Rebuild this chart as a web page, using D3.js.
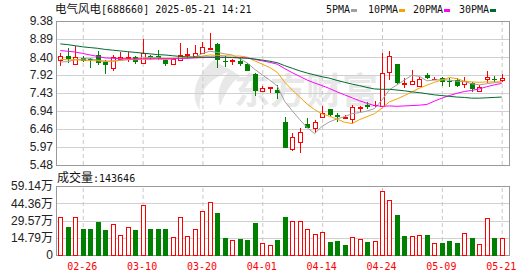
<!DOCTYPE html>
<html>
<head>
<meta charset="utf-8">
<script src="https://cdn.jsdelivr.net/npm/d3@7"></script>
<style>
  body { margin: 0; background: #fff; }
  svg { display: block; }
  .ax text { font-family: "Liberation Sans", "Noto Sans CJK SC", sans-serif; font-size: 12px; fill: #222; }
  .mono { font-family: "DejaVu Sans Mono", monospace; font-size: 10px; }
  .cjk { font-family: "Noto Sans CJK SC", sans-serif; font-size: 12px; }
</style>
</head>
<body>
<svg id="chart"></svg>
<script>
// trading days shown (MM-DD)
const dates = ["02-21","02-24","02-25","02-26","02-27","02-28","03-03","03-04","03-05","03-06",
  "03-07","03-10","03-11","03-12","03-13","03-14","03-17","03-18","03-19","03-20",
  "03-21","03-24","03-25","03-26","03-27","03-28","03-31","04-01","04-02","04-03",
  "04-07","04-08","04-09","04-10","04-11","04-14","04-15","04-16","04-17","04-18",
  "04-21","04-22","04-23","04-24","04-25","04-28","04-29","04-30","05-06","05-07",
  "05-08","05-09","05-12","05-13","05-14","05-15","05-16","05-19","05-20","05-21"];

const open = [8.32,8.44,8.22,8.39,8.36,8.45,8.28,8.10,8.36,8.39,8.40,8.23,8.42,8.42,8.32,8.22,8.33,8.47,8.43,8.51,
  8.62,8.75,8.31,8.30,8.31,8.21,7.94,7.48,7.56,7.51,6.65,5.91,6.11,6.60,6.47,6.77,6.99,6.84,6.76,6.72,
  7.02,7.11,7.10,7.08,8.01,8.22,7.68,7.67,7.61,7.92,7.81,7.83,7.76,7.78,7.67,7.69,7.48,7.81,7.82,7.78];
const high = [8.50,8.64,8.70,8.42,8.37,8.57,8.32,8.46,8.55,8.55,8.43,8.88,8.46,8.59,8.36,8.36,8.78,8.64,8.73,8.82,
  9.06,8.78,8.43,8.35,8.37,8.24,7.96,7.62,7.60,7.65,6.77,6.34,6.49,6.74,6.70,7.08,7.01,6.88,6.84,7.10,
  7.08,7.18,7.21,8.52,8.58,8.22,7.83,8.05,7.85,7.96,7.86,7.87,7.83,7.83,7.87,7.72,7.65,8.03,7.90,7.94];
const low = [8.17,8.23,8.20,8.28,8.12,8.20,7.94,8.03,8.32,8.28,8.22,8.21,8.33,8.33,8.17,8.21,8.30,8.34,8.40,8.49,
  8.61,8.12,8.14,8.19,8.16,8.02,7.36,7.47,7.42,7.27,5.94,5.86,5.81,6.47,6.34,6.75,6.77,6.65,6.75,6.61,
  6.91,6.99,7.06,7.06,7.78,7.65,7.56,7.65,7.59,7.81,7.79,7.63,7.60,7.60,7.56,7.45,7.47,7.69,7.72,7.72];
const close = [8.44,8.34,8.40,8.30,8.33,8.23,8.19,8.40,8.40,8.41,8.28,8.50,8.38,8.39,8.22,8.34,8.46,8.49,8.51,8.68,
  8.66,8.32,8.30,8.32,8.22,8.03,7.49,7.56,7.58,7.42,5.94,6.23,6.38,6.47,6.65,6.90,6.83,6.78,6.78,7.04,
  7.05,7.05,7.11,7.96,8.43,7.71,7.70,7.76,7.80,7.83,7.82,7.72,7.75,7.63,7.76,7.53,7.60,7.86,7.81,7.84];

// volume (hands) and its colour flag (1 = red, 0 = green) as drawn
const volume = [323000,240000,323000,223000,223000,283000,214000,263000,169000,237000,
  214000,429000,223000,223000,223000,151000,323000,160000,220000,374000,
  451000,360000,146000,126000,137000,129000,274000,100000,83000,129000,
  326000,289000,289000,220000,180000,194000,111000,120000,86000,151000,
  134000,111000,120000,546000,469000,343000,163000,160000,169000,171000,
  103000,103000,120000,103000,186000,146000,91000,314000,146000,143646];
const volUp = [1,0,1,0,0,0,0,1,1,1, 0,1,0,0,0,1,1,1,1,1, 1,0,0,1,0,0,0,1,1,0,
  0,1,1,1,1,1,0,0,0,1, 1,0,1,1,1,0,0,1,1,0, 1,0,0,0,1,0,1,1,0,1];

// moving averages
const ma5 = [8.27,8.28,8.33,8.35,8.36,8.32,8.29,8.29,8.31,8.33,8.34,8.40,8.39,8.39,8.35,8.37,8.36,8.38,8.40,8.50,
  8.56,8.53,8.49,8.46,8.36,8.24,8.07,7.92,7.78,7.62,7.20,6.95,6.71,6.49,6.33,6.53,6.65,6.73,6.79,6.87,
  6.90,6.94,7.01,7.24,7.52,7.65,7.78,7.91,7.88,7.76,7.78,7.79,7.78,7.75,7.74,7.68,7.65,7.68,7.71,7.73];
const ma10 = [8.34,8.33,8.33,8.32,8.31,8.30,8.29,8.30,8.32,8.34,8.33,8.34,8.34,8.35,8.34,8.35,8.38,8.39,8.40,8.43,
  8.46,8.45,8.44,8.43,8.43,8.40,8.30,8.21,8.12,7.99,7.72,7.51,7.32,7.13,6.98,6.86,6.80,6.72,6.64,6.60,
  6.71,6.79,6.87,7.02,7.19,7.27,7.36,7.46,7.56,7.64,7.72,7.78,7.85,7.82,7.75,7.73,7.72,7.73,7.73,7.73];
const ma20 = [8.58,8.56,8.54,8.50,8.46,8.42,8.38,8.37,8.36,8.36,8.35,8.36,8.36,8.36,8.36,8.36,8.37,8.37,8.38,8.39,
  8.40,8.39,8.39,8.39,8.39,8.38,8.34,8.30,8.26,8.21,8.09,7.98,7.88,7.78,7.70,7.63,7.55,7.46,7.38,7.30,
  7.22,7.15,7.09,7.07,7.08,7.07,7.08,7.09,7.10,7.12,7.21,7.29,7.36,7.42,7.47,7.50,7.54,7.60,7.65,7.69];
const ma30 = [8.76,8.74,8.71,8.68,8.66,8.64,8.61,8.59,8.57,8.55,8.53,8.51,8.49,8.47,8.46,8.44,8.42,8.41,8.40,8.40,
  8.40,8.40,8.40,8.39,8.38,8.37,8.35,8.32,8.29,8.25,8.17,8.10,8.03,7.97,7.92,7.87,7.83,7.77,7.72,7.67,
  7.63,7.58,7.54,7.53,7.53,7.51,7.49,7.46,7.44,7.41,7.38,7.36,7.34,7.32,7.31,7.29,7.29,7.30,7.31,7.32];

const priceTicks = [9.38, 8.89, 8.40, 7.92, 7.43, 6.94, 6.46, 5.97, 5.48];
const volTicks = [0, 147900, 295700, 443600, 591400];
const dateTicks = ["02-26","03-10","03-20","04-01","04-14","04-24","05-09","05-21"];
const legendNames = ["5PMA","10PMA","20PMA","30PMA"];

const W = 530, H = 276;
const left = 56, right = 509;
const pTop = 21, pBot = 165, vTop = 186, vBot = 255;
const upC = "#ff0000", downC = "#008000";
const maColors = ["#a0a0a0", "#f4a300", "#ff00ff", "#006b2e"];

const svg = d3.select("#chart").attr("width", W).attr("height", H);

const x = d3.scalePoint().domain(dates).range([60.3, 501.7]);
const yP = d3.scaleLinear().domain([5.48, 9.38]).range([pBot, pTop]);
const yV = d3.scaleLinear().domain([0, 591400]).range([vBot, vTop]);
const cx = i => Math.round(x(dates[i])) + 0.5;

// watermark
const wm = svg.append("g").attr("fill", "#e8e8e8");
wm.append("path")
  .attr("d", "M214,60 C194,76 190,98 200,110 C198,92 208,80 228,72 C220,82 216,94 220,106 C226,90 234,80 240,76 C232,70 222,66 214,60 Z");
wm.append("text").attr("x", 234).attr("y", 104)
  .style("font-family", "Noto Sans CJK SC").style("font-size", "36px").style("font-weight", "bold")
  .text("东方财富");

// horizontal grid + price labels
svg.append("g").attr("class", "ax").attr("transform", `translate(${left},0)`)
  .call(d3.axisLeft(yP).tickValues(priceTicks).tickSize(-(right - left)).tickPadding(3).tickFormat(d3.format(".2f")))
  .call(g => g.select(".domain").remove())
  .call(g => g.selectAll("line").attr("stroke", "#d0d0d0").attr("shape-rendering", "crispEdges"));

svg.append("g").attr("class", "ax").attr("transform", `translate(${left},0)`)
  .call(d3.axisLeft(yV).tickValues(volTicks).tickSize(-(right - left)).tickPadding(3)
    .tickFormat(v => v === 0 ? "0" : (v / 1e4).toFixed(2) + "万"))
  .call(g => g.select(".domain").remove())
  .call(g => g.selectAll("line").attr("stroke", "#d0d0d0").attr("shape-rendering", "crispEdges"));

// vertical dashed grid
svg.append("g").attr("transform", `translate(0,${pBot})`)
  .call(d3.axisBottom(x).tickValues(dateTicks).tickSize(-(pBot - pTop)).tickFormat(""))
  .call(g => g.select(".domain").remove())
  .call(g => g.selectAll("line").attr("stroke", "#c8c8c8").attr("stroke-dasharray", "4,3"));

svg.append("g").attr("transform", `translate(0,${vBot})`)
  .call(d3.axisBottom(x).tickValues(dateTicks).tickSize(-(vBot - vTop)).tickPadding(8))
  .call(g => g.select(".domain").remove())
  .call(g => g.selectAll("line").attr("stroke", "#c8c8c8").attr("stroke-dasharray", "4,3"))
  .call(g => g.selectAll("text").attr("class", "mono").attr("fill", upC).attr("dx", -1));

// frames
[[pTop, pBot], [vTop, vBot]].forEach(([t, b]) => {
  svg.append("rect").attr("x", left + 0.5).attr("y", t + 0.5)
    .attr("width", right - left).attr("height", b - t)
    .attr("fill", "none").attr("stroke", "#999").attr("shape-rendering", "crispEdges");
});

// candles
const idx = d3.range(dates.length);
const candles = svg.append("g").attr("shape-rendering", "crispEdges");
idx.forEach(i => {
  const isUp = close[i] >= open[i];
  const col = isUp ? upC : downC;
  const c = cx(i);
  const yt = Math.round(yP(Math.max(open[i], close[i])));
  const yb = Math.round(yP(Math.min(open[i], close[i])));
  candles.append("line").attr("x1", c).attr("x2", c)
    .attr("y1", yP(high[i])).attr("y2", yP(low[i])).attr("stroke", col);
  if (isUp) {
    if (yb - yt < 1) {
      candles.append("rect").attr("x", c - 2.5).attr("y", yt).attr("width", 5).attr("height", 1).attr("fill", col);
    } else {
      candles.append("rect").attr("x", c - 2).attr("y", yt + 0.5).attr("width", 4).attr("height", yb - yt)
        .attr("fill", "#fff").attr("stroke", col);
    }
  } else {
    candles.append("rect").attr("x", c - 2.5).attr("y", yt).attr("width", 5)
      .attr("height", Math.max(1, yb - yt)).attr("fill", col);
  }
});

// moving averages
const line = d3.line().x((d, i) => x(dates[i])).y(d => yP(d));
[ma5, ma10, ma20, ma30].forEach((s, k) => {
  svg.append("path").datum(s).attr("d", line)
    .attr("fill", "none").attr("stroke", maColors[k]).attr("stroke-width", 1);
});

// volume bars
const vols = svg.append("g").attr("shape-rendering", "crispEdges");
idx.forEach(i => {
  const c = cx(i);
  const yt = Math.round(yV(volume[i]));
  if (volUp[i]) {
    vols.append("rect").attr("x", c - 2).attr("y", yt + 0.5).attr("width", 4).attr("height", vBot - yt)
      .attr("fill", "#fff").attr("stroke", upC);
  } else {
    vols.append("rect").attr("x", c - 2.5).attr("y", yt).attr("width", 5).attr("height", vBot - yt + 1)
      .attr("fill", downC);
  }
});

// title
const title = svg.append("text").attr("x", 55).attr("y", 13).attr("fill", "#111");
title.append("tspan").attr("class", "cjk").style("font-size", "11.5px").text("电气风电");
title.append("tspan").attr("class", "mono").text("[688660] 2025-05-21 14:21");

// legend
const legendX = [326, 368, 413, 459];
legendNames.forEach((n, k) => {
  svg.append("text").attr("class", "mono").attr("x", legendX[k]).attr("y", 12.5).attr("fill", "#111").text(n);
  svg.append("rect").attr("x", legendX[k] + n.length * 6 + 1).attr("y", 9).attr("width", 6).attr("height", 3)
    .attr("fill", maColors[k]);
});

// volume caption
const vt = svg.append("text").attr("x", 57).attr("y", 182).attr("fill", "#111");
vt.append("tspan").attr("class", "cjk").text("成交量");
vt.append("tspan").attr("class", "mono").text(":" + volume[volume.length - 1]);
</script>
</body>
</html>
